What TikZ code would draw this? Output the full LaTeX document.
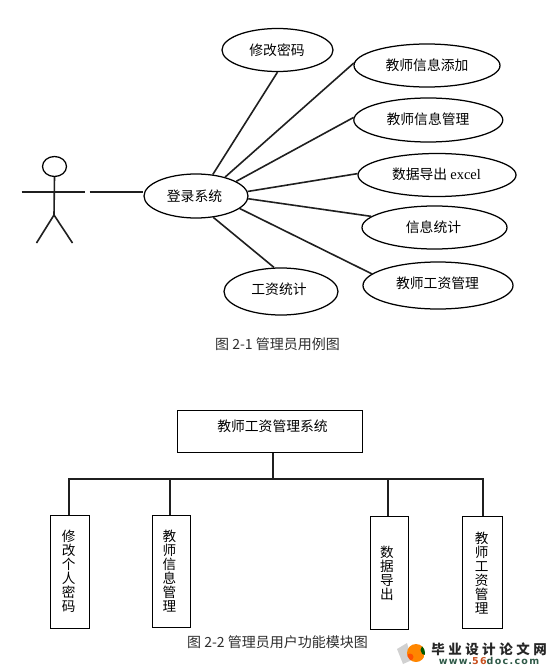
\documentclass[tikz,border=0pt]{standalone}
\usepackage{fontspec}
\setmainfont{Noto Sans CJK SC}
\newfontfamily\latinserif{Liberation Serif}
\newfontfamily\logofont[LetterSpace=14]{DejaVu Sans}
\usetikzlibrary{shapes.geometric}
\definecolor{wmgreen}{HTML}{2F5A48}
\definecolor{wmred}{HTML}{C8501E}
\tikzset{
  x=1pt,y=-1pt,
  ln/.style={draw=black!88,line width=1.6pt},
  usecase/.style={ellipse,draw=black,line width=1.25pt,inner sep=0pt,fill=white},
  boxn/.style={rectangle,draw=black,line width=1.1pt,inner sep=0pt,fill=white},
  txt/.style={font=\fontsize{13.8}{14}\selectfont,inner sep=0pt,text=black},
  vtxt/.style={font=\fontsize{13.6}{14}\selectfont,inner sep=0pt,align=center,text=black},
  captxt/.style={font=\fontsize{14}{14}\selectfont,inner sep=0pt,text=black!82},
}
\newcommand{\ucnode}[6]{%
  \node[usecase,minimum width=#4pt,minimum height=#5pt] (#1) at (#2,#3) {};
  \node[txt] (#1-t) at #6;}
\newcommand{\vstack}[4]{%
  \node[vtxt] (#1) at (#2,#3) {#4};}
\begin{document}
\begin{tikzpicture}
\useasboundingbox (0,0) rectangle (559,671);
\fill[white] (0,0) rectangle (559,671);
% actor
\node[ellipse,draw=black,line width=1.25pt,minimum width=24pt,minimum height=20pt,inner sep=0pt] (head) at (54.5,166.5) {};
\coordinate (hip) at (54,215);
\coordinate (armL) at (21.5,192);
\coordinate (armR) at (85,192);
\coordinate (footL) at (36.5,243);
\coordinate (footR) at (72.5,243);
\coordinate (assoc) at (89.5,192);
\draw[ln] (head.south) -- (hip);
\draw[ln] (armL) -- (armR);
\draw[ln] (footL) -- (hip) -- (footR);
% use cases
\ucnode{login}{196}{196}{104}{44}{(194.5,196) {登录系统}}
\ucnode{pwd}{277.5}{50}{111}{43}{(277,50) {修改密码}}
\ucnode{add}{427}{65.5}{146}{43}{(427,65) {教师信息添加}}
\ucnode{mng}{428.3}{120}{149}{44}{(428,119) {教师信息管理}}
\ucnode{exp}{437}{175}{158}{43}{(436.5,174) {数据导出 {\latinserif\fontsize{14.5}{14}\selectfont excel}}}
\ucnode{sta}{434.5}{227.5}{145}{43}{(433.5,227.5) {信息统计}}
\ucnode{sal}{438}{285.5}{150}{47}{(437.5,283) {教师工资管理}}
\ucnode{calc}{281}{291.5}{114}{47}{(279,289) {工资统计}}
% associations
\draw[ln] (assoc) -- (assoc -| login.west);
\draw[ln] (login.52) -- (pwd.270);
\draw[ln] (login.33.7) -- (add.178);
\draw[ln] (login.20) -- (mng.178);
\draw[ln] (login.5.5) -- (exp.179);
\draw[ln] (login.-3.3) -- (sta.170.5);
\draw[ln] (login.-16.8) -- (sal.170);
\draw[ln] (login.-51) -- (calc.106);
% captions
\node[captxt] (cap1) at (277.5,344) {图 2-1 管理员用例图};
\node[captxt] (cap2) at (277.5,642) {图 2-2 管理员用户功能模块图};
% module tree
\node[boxn,minimum width=185pt,minimum height=42pt] (root) at (269.8,431.3) {};
\node[txt] (root-t) at (272.5,426) {教师工资管理系统};
\node[boxn,minimum width=39pt,minimum height=113pt] (m1) at (69.8,571.8) {};
\node[boxn,minimum width=38pt,minimum height=112pt] (m2) at (171.3,571.3) {};
\node[boxn,minimum width=38pt,minimum height=113pt] (m3) at (389.3,572.8) {};
\node[boxn,minimum width=40pt,minimum height=112.4pt] (m4) at (482.3,572.5) {};
\vstack{m1-t}{68.7}{571.5}{修\\改\\个\\人\\密\\码}
\vstack{m2-t}{169.5}{571.5}{教\\师\\信\\息\\管\\理}
\vstack{m3-t}{387}{573.5}{数\\据\\导\\出}
\vstack{m4-t}{481.7}{573.5}{教\\师\\工\\资\\管\\理}
\coordinate (trunk) at (273,479);
\coordinate (b1) at (69,479);
\coordinate (b2) at (170,479);
\coordinate (b3) at (388,479);
\coordinate (b4) at (483,479);
\draw[ln] (root.south -| trunk) -- (trunk);
\draw[ln] (m1.north -| b1) -- (b1) -- (b4) -- (m4.north -| b4);
\draw[ln] (b2) -- (m2.north -| b2);
\draw[ln] (b3) -- (m3.north -| b3);
% watermark
\fill[black!18] (397,649) -- (407,643) -- (412,660) -- (403,664) -- cycle;
\begin{scope}
\clip (416,653) circle (9);
\fill[orange!95!yellow] (407,644) rectangle (425,662);
\fill[green!35!black] (426,650) circle (5.5);
\fill[red!70!orange,opacity=.55] (410,657) circle (3.5);
\end{scope}
\node[inner sep=0pt,font=\fontsize{13.5}{14}\bfseries\selectfont,text=black!85] (wm1) at (489,649) {毕\hspace{3.5pt}业\hspace{3.5pt}设\hspace{3.5pt}计\hspace{3.5pt}论\hspace{3.5pt}文\hspace{3.5pt}网};
\node[inner sep=0pt,font=\logofont\fontsize{9.5}{10}\bfseries\selectfont,text=wmgreen] (wm2) at (489,661) {www.\textcolor{wmred}{56}doc.com};
\end{tikzpicture}
\end{document}
